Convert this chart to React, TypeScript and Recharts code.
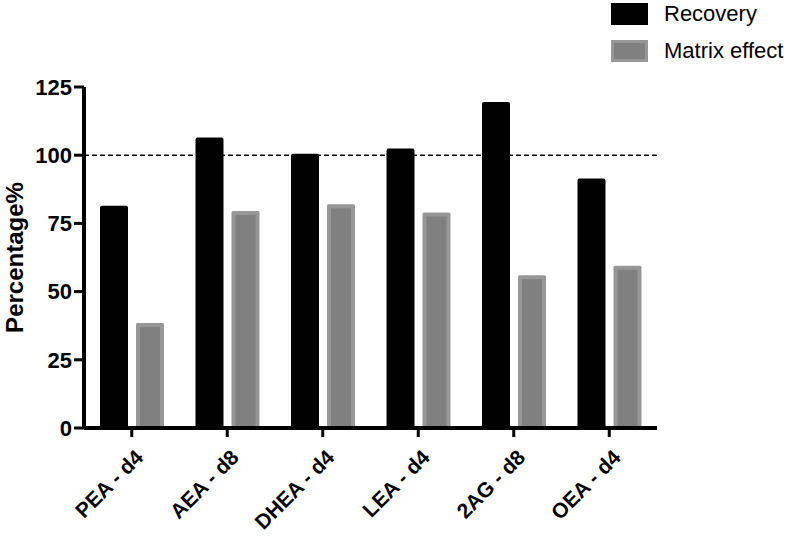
import React from 'react';
import {
  BarChart,
  Bar,
  XAxis,
  YAxis,
  ReferenceLine,
  Legend,
} from 'recharts';

const categories = ['PEA - d4', 'AEA - d8', 'DHEA - d4', 'LEA - d4', '2AG - d8', 'OEA - d4'];
const recovery = [81.5, 106.5, 100.5, 102.5, 119.5, 91.5];
const matrixEffect = [38.5, 79.5, 82, 79, 56, 59.5];
const yTicks = [0, 25, 50, 75, 100, 125];

const FONT = '"Liberation Sans", Arial, Helvetica, sans-serif';

const data = categories.map((name, i) => ({
  name,
  recovery: recovery[i],
  matrix: matrixEffect[i],
}));

// gray bar with lighter border drawn inside the bar box
function MatrixBar(props: any) {
  const { x, y, width, height } = props;
  if (!height || height <= 0) return null;
  return (
    <g>
      <rect x={x} y={y} width={width} height={height} fill="#979797" rx={1.5} />
      <rect x={x + 4} y={y + 4} width={width - 8} height={height - 4} fill="#808080" />
    </g>
  );
}

function XTick({ x, y, payload }: any) {
  return (
    <text
      x={x + 2}
      y={y + 9}
      textAnchor="end"
      dominantBaseline="hanging"
      transform={`rotate(-45, ${x + 2}, ${y + 9})`}
      fontFamily={FONT}
      fontWeight="bold"
      fontSize={21}
      fill="#000"
    >
      {payload.value}
    </text>
  );
}

function LegendContent() {
  const items = [
    { label: 'Recovery', outer: '#000', inner: '#000' },
    { label: 'Matrix effect', outer: '#979797', inner: '#808080' },
  ];
  return (
    <div style={{ fontFamily: FONT, fontSize: 22, color: '#000' }}>
      {items.map((it) => (
        <div key={it.label} style={{ display: 'flex', alignItems: 'center', height: 37 }}>
          <div
            style={{
              width: 37,
              height: 22,
              background: it.outer,
              boxSizing: 'border-box',
              border: `3px solid ${it.outer}`,
              marginRight: 16,
            }}
          >
            <div style={{ width: '100%', height: '100%', background: it.inner }} />
          </div>
          <span>{it.label}</span>
        </div>
      ))}
    </div>
  );
}

export default function App() {
  return (
    <div style={{ position: 'absolute', left: 0, top: 0, width: 797, height: 537, background: '#fff' }}>
      <BarChart
        width={797}
        height={537}
        data={data}
        margin={{ top: 13, right: 140, bottom: 0, left: 0 }}
        barCategoryGap={16}
        barGap={8}
      >
        <XAxis
          dataKey="name"
          height={109}
          axisLine={{ stroke: '#000', strokeWidth: 4 }}
          tickLine={{ stroke: '#000', strokeWidth: 3 }}
          tickSize={9}
          tick={<XTick />}
          interval={0}
        />
        <YAxis
          width={84}
          domain={[0, 125]}
          ticks={yTicks}
          interval={0}
          axisLine={{ stroke: '#000', strokeWidth: 4 }}
          tickLine={{ stroke: '#000', strokeWidth: 3 }}
          tickSize={10}
          tick={{ fill: '#000', fontFamily: FONT, fontWeight: 'bold', fontSize: 22 }}
          label={{
            value: 'Percentage%',
            angle: -90,
            position: 'insideLeft',
            offset: 14,
            style: { fill: '#000', fontFamily: FONT, fontWeight: 'bold', fontSize: 24, textAnchor: 'middle' },
          }}
        />
        <Legend
          verticalAlign="top"
          align="right"
          content={<LegendContent />}
          wrapperStyle={{ position: 'absolute', top: -5, left: 611, width: 186 }}
        />
        <ReferenceLine y={100} stroke="#000" strokeWidth={1.5} strokeDasharray="5 3" />
        <Bar dataKey="recovery" fill="#000" radius={[2, 2, 0, 0]} isAnimationActive={false} />
        <Bar dataKey="matrix" fill="#808080" shape={<MatrixBar />} isAnimationActive={false} />
      </BarChart>
    </div>
  );
}
